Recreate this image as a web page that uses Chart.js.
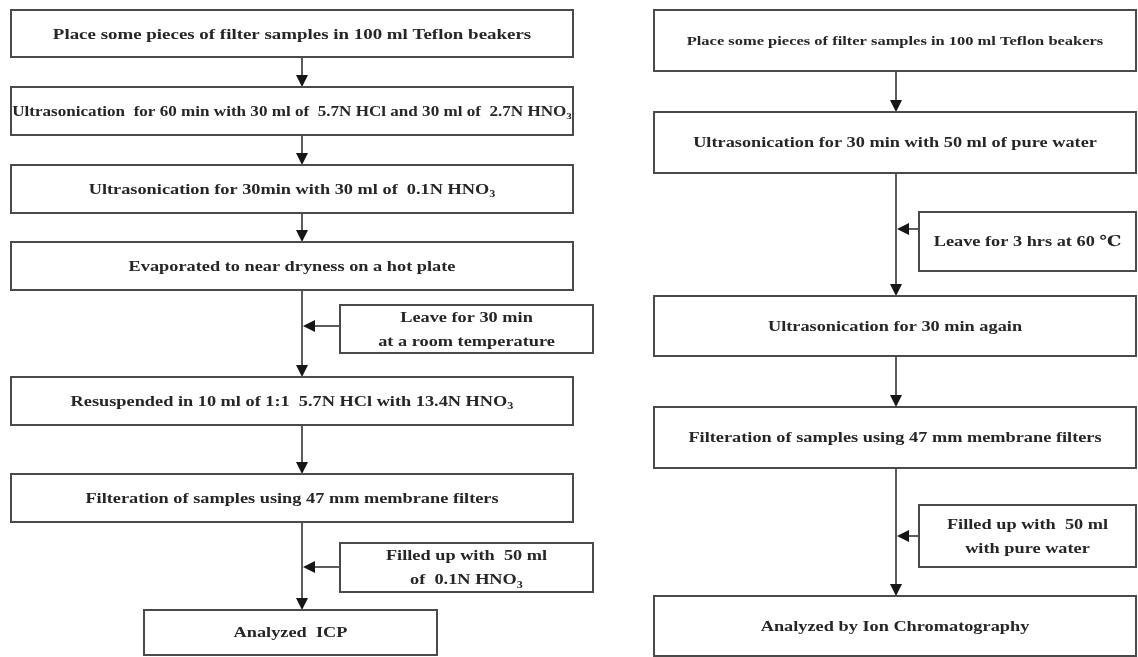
<!DOCTYPE html>
<html>
<head>
<meta charset="utf-8">
<script src="https://cdn.jsdelivr.net/npm/chart.js@4.4.1/dist/chart.umd.min.js"></script>
<style>
  html, body { margin: 0; padding: 0; background: #fff; }
  #wrap { width: 1138px; height: 657px; }
</style>
</head>
<body>
<div id="wrap"><canvas id="fluxo" width="1138" height="657"></canvas></div>
<script>
// textos das etapas ("_3" = subscrito)
const etapasEsq = [
  "Place some pieces of filter samples in 100 ml Teflon beakers",
  "Ultrasonication  for 60 min with 30 ml of  5.7N HCl and 30 ml of  2.7N HNO_3",
  "Ultrasonication for 30min with 30 ml of  0.1N HNO_3",
  "Evaporated to near dryness on a hot plate",
  "Resuspended in 10 ml of 1:1  5.7N HCl with 13.4N HNO_3",
  "Filteration of samples using 47 mm membrane filters",
  "Analyzed  ICP",
];
const notasEsq = [
  ["Leave for 30 min", "at a room temperature"],
  ["Filled up with  50 ml", "of  0.1N HNO_3"],
];
const etapasDir = [
  "Place some pieces of filter samples in 100 ml Teflon beakers",
  "Ultrasonication for 30 min with 50 ml of pure water",
  "Ultrasonication for 30 min again",
  "Filteration of samples using 47 mm membrane filters",
  "Analyzed by Ion Chromatography",
];
const notasDir = [
  ["Leave for 3 hrs at 60 \u2103"],
  ["Filled up with  50 ml", "with pure water"],
];

// disposição (unidades das escalas)
const colunas = [
  {
    etapas: etapasEsq, notas: notasEsq, eixo: 302,
    x: [11, 573], xUltima: [144, 437],
    linhas: [[10, 57], [87, 135], [165, 213], [242, 290], [377, 425], [474, 522], [610, 655]],
    notaX: [340, 593], notaLinhas: [[305, 353], [543, 592]], notaSeta: [326, 567],
    fontes: [15.5, 14, 15, 15, 15, 15, 15],
  },
  {
    etapas: etapasDir, notas: notasDir, eixo: 896,
    x: [654, 1136], xUltima: [654, 1136],
    linhas: [[10, 71], [112, 173], [296, 356], [407, 468], [596, 656]],
    notaX: [919, 1136], notaLinhas: [[212, 271], [505, 567]], notaSeta: [229, 536],
    fontes: [13.5, 15, 15, 15, 15],
  },
];

const ESTICAR = 1.22; // letras largas como no original
const COR_BORDA = "#4a4a4a";
const COR_TEXTO = "#262626";
const FAMILIA = "'Liberation Serif', 'DejaVu Serif', serif";

const desenharTexto = (ctx, texto, cx, cy, tam) => {
  const partes = texto.split(/_(\d)/);
  const fonteN = `bold ${tam}px ${FAMILIA}`;
  const fonteS = `bold ${Math.round(tam * 0.65)}px ${FAMILIA}`;
  let largura = 0;
  partes.forEach((p, i) => {
    ctx.font = i % 2 ? fonteS : fonteN;
    largura += ctx.measureText(p).width;
  });
  ctx.save();
  ctx.translate(cx, cy);
  ctx.scale(ESTICAR, 1);
  let x = -largura / 2;
  ctx.textBaseline = "middle";
  ctx.textAlign = "left";
  ctx.fillStyle = COR_TEXTO;
  partes.forEach((p, i) => {
    ctx.font = i % 2 ? fonteS : fonteN;
    ctx.fillText(p, x, i % 2 ? tam * 0.3 : 0);
    x += ctx.measureText(p).width;
  });
  ctx.restore();
};

const setaBaixo = (ctx, x, y) => {
  ctx.beginPath();
  ctx.moveTo(x, y);
  ctx.lineTo(x - 6, y - 12);
  ctx.lineTo(x + 6, y - 12);
  ctx.closePath();
  ctx.fill();
};

const setaEsq = (ctx, x, y) => {
  ctx.beginPath();
  ctx.moveTo(x, y);
  ctx.lineTo(x + 12, y - 6);
  ctx.lineTo(x + 12, y + 6);
  ctx.closePath();
  ctx.fill();
};

const pluginFluxo = {
  id: "fluxo",
  afterDatasetsDraw(chart) {
    const { ctx, scales } = chart;
    const px = (v) => scales.x.getPixelForValue(v);
    const py = (v) => scales.y.getPixelForValue(v);
    ctx.save();

    colunas.forEach((col) => {
      const ex = px(col.eixo);
      // conectores entre etapas
      for (let i = 0; i < col.linhas.length - 1; i++) {
        const y0 = py(col.linhas[i][1]);
        const y1 = py(col.linhas[i + 1][0]);
        ctx.lineWidth = 1.8;
        ctx.strokeStyle = COR_BORDA;
        ctx.beginPath();
        ctx.moveTo(ex, y0);
        ctx.lineTo(ex, y1 - 6);
        ctx.stroke();
        ctx.fillStyle = "#161616";
        setaBaixo(ctx, ex, y1);
      }
      // caixas das etapas
      col.etapas.forEach((texto, i) => {
        const [xa, xb] = i === col.etapas.length - 1 ? col.xUltima : col.x;
        const [ya, yb] = col.linhas[i];
        ctx.lineWidth = 2;
        ctx.strokeStyle = COR_BORDA;
        ctx.fillStyle = "#fff";
        ctx.fillRect(px(xa), py(ya), px(xb) - px(xa), py(yb) - py(ya));
        ctx.strokeRect(px(xa), py(ya), px(xb) - px(xa), py(yb) - py(ya));
        desenharTexto(ctx, texto, (px(xa) + px(xb)) / 2, (py(ya) + py(yb)) / 2 + 1, col.fontes[i]);
      });
      // notas laterais
      col.notas.forEach((linhasTexto, i) => {
        const [xa, xb] = col.notaX;
        const [ya, yb] = col.notaLinhas[i];
        const ys = py(col.notaSeta[i]);
        ctx.lineWidth = 1.8;
        ctx.strokeStyle = COR_BORDA;
        ctx.beginPath();
        ctx.moveTo(px(xa), ys);
        ctx.lineTo(ex + 6, ys);
        ctx.stroke();
        ctx.fillStyle = "#161616";
        setaEsq(ctx, ex + 1, ys);
        ctx.lineWidth = 2;
        ctx.fillStyle = "#fff";
        ctx.fillRect(px(xa), py(ya), px(xb) - px(xa), py(yb) - py(ya));
        ctx.strokeRect(px(xa), py(ya), px(xb) - px(xa), py(yb) - py(ya));
        const cx = (px(xa) + px(xb)) / 2;
        const cy = (py(ya) + py(yb)) / 2;
        const passo = 24;
        linhasTexto.forEach((t, k) => {
          desenharTexto(ctx, t, cx, cy + (k - (linhasTexto.length - 1) / 2) * passo + 1, 15);
        });
      });
    });
    ctx.restore();
  },
};

new Chart(document.getElementById("fluxo"), {
  type: "scatter",
  data: { datasets: [{ data: [], pointRadius: 0 }] },
  options: {
    responsive: false,
    animation: false,
    devicePixelRatio: 1,
    layout: { padding: 0 },
    plugins: { legend: { display: false }, tooltip: { enabled: false } },
    scales: {
      x: { type: "linear", min: 0, max: 1138, display: false },
      y: { type: "linear", min: 0, max: 657, reverse: true, display: false },
    },
  },
  plugins: [pluginFluxo],
});
</script>
</body>
</html>
